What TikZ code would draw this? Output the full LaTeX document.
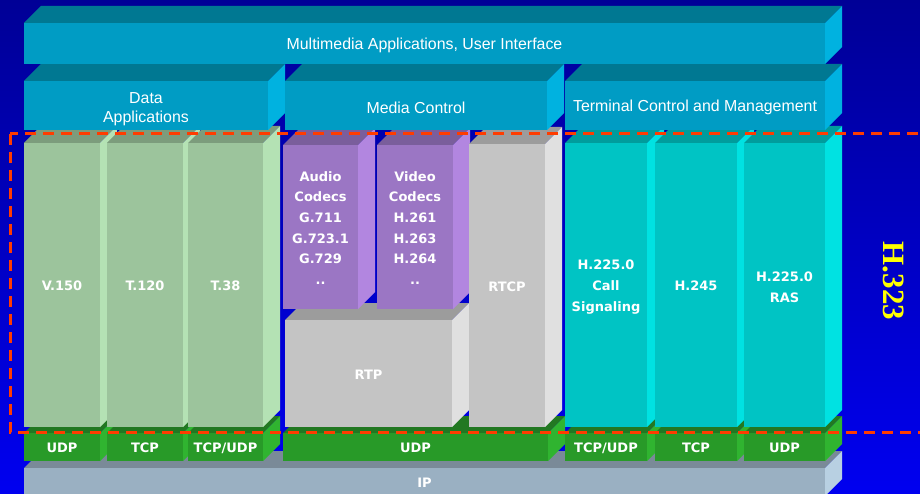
\documentclass[tikz,border=0pt]{standalone}
\usepackage{fontspec}
\setmainfont{Liberation Sans}
\newfontfamily\vfont{DejaVu Sans}
\newfontfamily\tnr{Liberation Serif}

% palette: F = front face, S = side face, T = top face
\definecolor{bgTop}{RGB}{0,0,150}
\definecolor{bgBot}{RGB}{0,0,240}
\definecolor{tealF}{RGB}{0,156,196}\definecolor{tealS}{RGB}{0,178,224}\definecolor{tealT}{RGB}{0,120,146}
\definecolor{leafF}{RGB}{156,196,156}\definecolor{leafS}{RGB}{180,226,180}\definecolor{leafT}{RGB}{124,156,124}
\definecolor{violF}{RGB}{155,118,196}\definecolor{violS}{RGB}{178,134,224}\definecolor{violT}{RGB}{122,94,156}
\definecolor{greyF}{RGB}{196,196,196}\definecolor{greyS}{RGB}{224,224,224}\definecolor{greyT}{RGB}{156,156,156}
\definecolor{cyanF}{RGB}{0,196,196}\definecolor{cyanS}{RGB}{0,226,226}\definecolor{cyanT}{RGB}{0,156,156}
\definecolor{grnF}{RGB}{40,154,40}\definecolor{grnS}{RGB}{48,180,48}\definecolor{grnT}{RGB}{34,120,34}
\definecolor{ipF}{RGB}{154,176,194}\definecolor{ipS}{RGB}{184,208,226}\definecolor{ipT}{RGB}{122,138,152}
\definecolor{frameRed}{RGB}{255,60,0}
\definecolor{labelYellow}{RGB}{255,255,0}

\newcommand\slabdepth{17}
% #1 name, #2 left, #3 top, #4 right, #5 bottom, #6 palette, #7 text style, #8 label
\newcommand\slab[8]{%
  \fill[#6T] (#2,#3) -- ++(\slabdepth,-\slabdepth) -- ({#4+\slabdepth},{#3-\slabdepth}) -- (#4,#3) -- cycle;
  \fill[#6S] (#4,#3) -- ({#4+\slabdepth},{#3-\slabdepth}) -- ({#4+\slabdepth},{#5-\slabdepth}) -- (#4,#5) -- cycle;
  \fill[#6F] (#2,#3) rectangle (#4,#5);
  \node[front, minimum width={(#4-#2)*1pt}, minimum height={(#5-#3)*1pt}, #7]
    (#1) at ({(#2+#4)/2},{(#3+#5)/2}) {#8};
}

\begin{document}
\begin{tikzpicture}[x=1pt, y=-1pt,
  front/.style={inner sep=0pt, outer sep=0pt, text=white, align=center},
  ttl/.style={font=\fontsize{15.9}{19}\selectfont, yshift=-2pt},
  ttlii/.style={font=\fontsize{15.9}{19}\selectfont, yshift=-4pt},
  bld/.style={font=\vfont\bfseries\fontsize{13}{20.7}\selectfont, yshift=-1pt},
  frame/.style={draw=frameRed, line width=3pt, dash pattern=on 11pt off 7pt}]

\useasboundingbox (0,0) rectangle (920,494);
\clip (0,0) rectangle (920,494);
\shade[top color=bgTop, bottom color=bgBot] (0,0) rectangle (920,494);

% network layer
\slab{ip}{24}{468}{825}{496}{ip}{bld}{IP}

% transport blocks
\slab{udpA}{24}{433}{100}{461}{grn}{bld}{UDP}
\slab{tcpA}{107}{433}{183}{461}{grn}{bld}{TCP}
\slab{tcpudpA}{188}{433}{263}{461}{grn}{bld}{TCP/UDP}
\slab{udpB}{283}{433}{548}{461}{grn}{bld}{UDP}
\slab{tcpudpB}{565}{433}{647}{461}{grn}{bld}{TCP/UDP}
\slab{tcpB}{655}{433}{737}{461}{grn}{bld}{TCP}
\slab{udpC}{744}{433}{825}{461}{grn}{bld}{UDP}

% data protocols
\slab{v150}{24}{143}{100}{427}{leaf}{bld}{V.150}
\slab{t120}{107}{143}{183}{427}{leaf}{bld}{T.120}
\slab{t38}{188}{143}{263}{427}{leaf}{bld}{T.38}

% media stack
\slab{rtp}{285}{320}{452}{427}{grey}{bld}{RTP}
\slab{audio}{283}{145}{358}{309}{viol}{bld}{Audio\\Codecs\\G.711\\G.723.1\\G.729\\..}
\slab{video}{377}{145}{453}{309}{viol}{bld}{Video\\Codecs\\H.261\\H.263\\H.264\\..}
\slab{rtcp}{469}{144}{545}{427}{grey}{bld}{RTCP}

% control protocols
\slab{h2250call}{565}{143}{647}{427}{cyan}{bld, yshift=-1pt}{H.225.0\\Call\\Signaling}
\slab{h245}{655}{143}{737}{427}{cyan}{bld}{H.245}
\slab{h2250ras}{744}{143}{825}{427}{cyan}{bld, yshift=-1pt}{H.225.0\\RAS}

% application groups
\slab{dataapp}{24}{81}{268}{130}{teal}{ttlii}{Data\\Applications}
\slab{mediactl}{285}{81}{547}{130}{teal}{ttl}{Media Control}
\slab{termctl}{565}{81}{825}{130}{teal}{ttl}{Terminal Control and Management}

% top layer
\slab{mmapp}{24}{23}{825}{64}{teal}{ttl}{Multimedia Applications, User Interface}

% H.323 scope
\draw[frame] (10,134) rectangle (940,432);
\node[text=labelYellow, font=\tnr\bfseries\fontsize{31}{31}\selectfont, rotate=-90, inner sep=0pt]
  (h323) at (894,281) {H.323};

\end{tikzpicture}
\end{document}
